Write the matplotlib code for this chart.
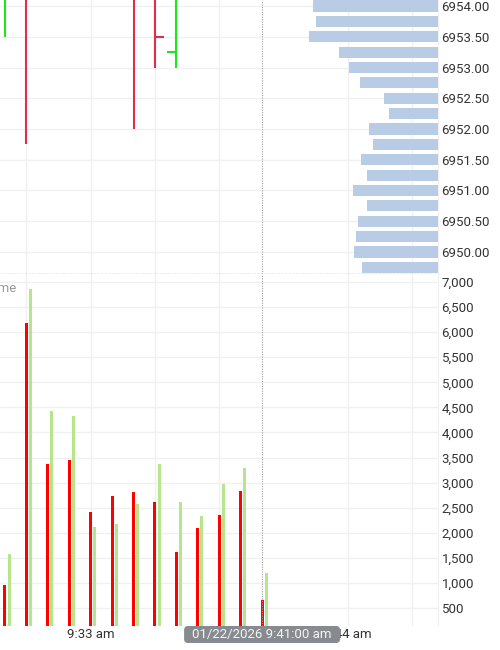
import numpy as np
import matplotlib
matplotlib.use("Agg")
import matplotlib.pyplot as plt
from matplotlib.ticker import FixedLocator, FuncFormatter
from matplotlib.patches import FancyBboxPatch
from matplotlib.transforms import IdentityTransform

plt.rcParams['font.family'] = ['Roboto', 'DejaVu Sans']

# ---------------- data ----------------
# one bar per minute, index 0 = 9:29
bar_index = np.arange(13)
opens  = [6954.50, 6955.75, 6956.50, 6956.25, 6955.75, 6955.50, 6955.00, 6954.75, 6953.25, 6954.50, 6954.75, 6955.25, 6955.00]
highs  = [6955.25, 6956.25, 6957.00, 6956.75, 6956.25, 6956.00, 6955.25, 6955.00, 6954.75, 6955.00, 6955.50, 6955.75, 6955.25]
lows   = [6953.50, 6951.75, 6954.50, 6954.75, 6954.50, 6954.25, 6952.00, 6953.00, 6953.00, 6954.25, 6954.50, 6954.50, 6954.50]
closes = [6955.00, 6954.50, 6955.00, 6955.25, 6954.75, 6954.75, 6954.50, 6953.50, 6954.50, 6954.75, 6955.25, 6954.75, 6954.75]

sell_volume = [960, 6180, 3380, 3460, 2420, 2740, 2820, 2620, 1620, 2100, 2360, 2840, 660]
buy_volume  = [1580, 6860, 4420, 4320, 2120, 2180, 2580, 3380, 2620, 2340, 2980, 3300, 1200]

profile_prices = [6954.00, 6953.75, 6953.50, 6953.25, 6953.00, 6952.75, 6952.50, 6952.25, 6952.00,
                  6951.75, 6951.50, 6951.25, 6951.00, 6950.75, 6950.50, 6950.25, 6950.00, 6949.75]
profile_volume = [125, 122, 129, 99, 89, 78, 54, 49, 69, 65, 77, 71, 85, 71, 80, 82, 84, 76]

price_ticks = [6950.00, 6950.50, 6951.00, 6951.50, 6952.00, 6952.50, 6953.00, 6953.50, 6954.00]
volume_ticks = [500, 1000, 1500, 2000, 2500, 3000, 3500, 4000, 4500, 5000, 5500, 6000, 6500, 7000]
grid_index = [1, 4, 7, 10, 16, 19]
time_tick_index = [4, 16]
time_tick_labels = ["9:33 am", "9:44 am"]
crosshair_index = 12
crosshair_label = "01/22/2026 9:41:00 am"

# ---------------- style ----------------
UP = "#1ee61e"
DOWN = "#e32d4f"
VOL_SELL = "#ff0000"
VOL_BUY = "#b6e58c"
PROFILE = "#b9cce6"
GRID = "#f0f0f0"
TXT = "#333333"
FS = 9.5

fig = plt.figure(figsize=(5, 6.5), dpi=100)
W, H = 500, 650
def rect(x0, y0, x1, y1):
    return [x0 / W, 1 - y1 / H, (x1 - x0) / W, (y1 - y0) / H]

ax_p = fig.add_axes(rect(0, 0, 438, 274))
ax_v = fig.add_axes(rect(0, 274, 438, 626), sharex=ax_p)

xlim = (-0.233, 20.21)
ax_p.set_xlim(*xlim)
ax_p.set_ylim(6949.642, 6954.098)
ax_v.set_ylim(141, 7160)

for ax in (ax_p, ax_v):
    for s in ax.spines.values():
        s.set_visible(False)
    ax.spines['right'].set_visible(True)
    ax.spines['right'].set_color(GRID)
    for gx in grid_index:
        ax.axvline(gx, color=GRID, lw=1, zorder=0)
    ax.yaxis.tick_right()
    ax.tick_params(axis='y', length=0, pad=2.5, labelsize=FS, labelcolor=TXT)
    ax.tick_params(axis='x', length=0)

# price grid / ticks
ax_p.yaxis.set_major_locator(FixedLocator(price_ticks))
ax_p.yaxis.set_major_formatter(FuncFormatter(lambda v, p: f"{v:.2f}"))
for pt in price_ticks:
    ax_p.axhline(pt, color=GRID, lw=1, zorder=0)
ax_p.tick_params(axis='x', labelbottom=False)

# OHLC bars
tick = 0.42
for i, o, h, l, c in zip(bar_index, opens, highs, lows, closes):
    col = UP if c >= o else DOWN
    ax_p.vlines(i, l, h, color=col, lw=1.5, zorder=3)
    ax_p.hlines(o, i - tick, i, color=col, lw=1.5, zorder=3)
    ax_p.hlines(c, i, i + tick, color=col, lw=1.5, zorder=3)

# volume profile on a twin axis
ax_prof = ax_p.twiny()
ax_prof.set_xlim(438, 0)
ax_prof.barh(profile_prices, profile_volume, height=0.18, left=0, color=PROFILE, zorder=2)
ax_prof.tick_params(axis='x', top=False, labeltop=False, length=0)
for s in ax_prof.spines.values():
    s.set_visible(False)

# separator (dotted)
ax_p.axhline(ax_p.get_ylim()[0], color="#999999", lw=1, ls=(0, (1.5, 1)), zorder=5, clip_on=False)

# volume panel
ax_v.yaxis.set_major_locator(FixedLocator(volume_ticks))
ax_v.yaxis.set_major_formatter(FuncFormatter(lambda v, p: f"{int(v):,}"))
for vt in volume_ticks:
    ax_v.axhline(vt, color=GRID, lw=1, zorder=0)
ax_v.bar(bar_index, sell_volume, width=0.14, color=VOL_SELL, zorder=3)
ax_v.bar(bar_index + 0.19, buy_volume, width=0.14, color=VOL_BUY, zorder=3)
ax_v.set_xticks(time_tick_index)
ax_v.set_xticklabels(time_tick_labels)
ax_v.tick_params(axis='x', labelsize=FS, labelcolor=TXT, pad=1.5)

# crosshair
for ax in (ax_p, ax_v):
    ax.axvline(crosshair_index, color="#a0a0a0", lw=0.8, ls=(0, (1, 1.2)), zorder=6)

# crosshair time label box (pixel-space box centred on the crosshair)
cx = ax_v.transData.transform((crosshair_index, 0))[0]
ybot = ax_v.transAxes.transform((0, 0))[1]
bw, bh = 156, 17
box = FancyBboxPatch((cx - bw / 2, ybot - bh), bw, bh,
                     boxstyle="round,pad=0,rounding_size=4",
                     fc="#878a8f", ec="none", transform=IdentityTransform(),
                     clip_on=False, zorder=19)
fig.add_artist(box)
fig.text(cx / W, (ybot - bh / 2) / H, crosshair_label, ha='center', va='center',
         fontsize=FS, color="#f5f5f5", zorder=20)

fig.text(17 / W, 1 - 289 / H, "Volume", ha='right', va='center', fontsize=FS, color="#9a9a9a")

fig.savefig("out.png", dpi=100)
